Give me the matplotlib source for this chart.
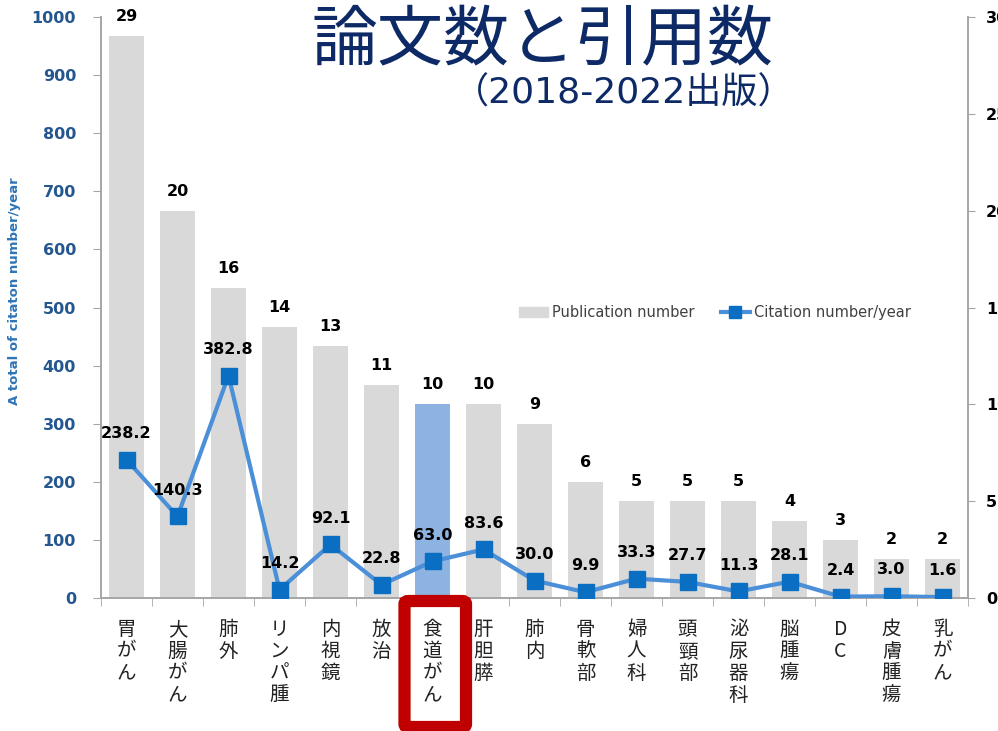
import matplotlib
matplotlib.use("Agg")
import matplotlib.pyplot as plt
from matplotlib.patches import FancyBboxPatch
from matplotlib.lines import Line2D
from matplotlib.patches import Patch

plt.rcParams['font.family'] = ['DejaVu Sans', 'Noto Sans CJK JP']

# data
categories = ['胃がん', '大腸がん', '肺外', 'リンパ腫', '内視鏡', '放治', '食道がん', '肝胆膵',
              '肺内', '骨軟部', '婦人科', '頭頸部', '泌尿器科', '脳腫瘍', 'DC', '皮膚腫瘍', '乳がん']
publications = [29, 20, 16, 14, 13, 11, 10, 10, 9, 6, 5, 5, 5, 4, 3, 2, 2]
citations = [238.2, 140.3, 382.8, 14.2, 92.1, 22.8, 63.0, 83.6, 30.0, 9.9,
             33.3, 27.7, 11.3, 28.1, 2.4, 3.0, 1.6]
highlight = '食道がん'

W, H = 998, 731
fig = plt.figure(figsize=(W / 100, H / 100), dpi=100)
L, R, B, T = 101, 968, 598, 17
ax = fig.add_axes([L / W, 1 - B / H, (R - L) / W, (B - T) / H])
ax2 = ax.twinx()
ax.set_zorder(ax2.get_zorder() + 1)
ax.patch.set_visible(False)

x = list(range(len(categories)))
spine_c = '#a6a6a6'

# bars on right axis
colors = ['#8db3e2' if c == highlight else '#d9d9d9' for c in categories]
ax2.bar(x, publications, width=0.7, color=colors, zorder=1)
for xi, v in zip(x, publications):
    ax2.annotate(str(v), (xi, v), xytext=(0, 14), textcoords='offset points',
                 ha='center', va='center', fontsize=11.5, fontweight='bold', color='black')
ax2.set_ylim(0, 30)
ax2.set_yticks(range(0, 31, 5))
ax2.tick_params(axis='y', direction='out', length=5, color=spine_c, pad=8,
                labelsize=11.5, labelcolor='black')
for lab in ax2.get_yticklabels():
    lab.set_fontweight('bold')

# line on left axis
ax.plot(x, citations, color='#4a8fd8', lw=3, marker='s', markersize=11,
        markerfacecolor='#0a6fc2', markeredgecolor='#0a6fc2', zorder=3)
for xi, v in zip(x, citations):
    ax.annotate(f'{v:.1f}', (xi, v), xytext=(0, 19), textcoords='offset points',
                ha='center', va='center', fontsize=11.5, fontweight='bold', color='black', zorder=4)
ax.set_ylim(0, 1000)
ax.set_yticks(range(0, 1001, 100))
ax.tick_params(axis='y', direction='out', length=6, color=spine_c, pad=12,
               labelsize=11.5, labelcolor='#24568f')
for lab in ax.get_yticklabels():
    lab.set_fontweight('bold')
ax.set_ylabel('A total of citaton number/year', fontsize=9.5, fontweight='bold',
              color='#2e75b6')
ax.yaxis.set_label_coords(-80 / (R - L), 0.528)

ax.set_xlim(-0.5, len(categories) - 0.5)
ax.set_xticks(x)
ax.set_xticklabels(['\n'.join(c) for c in categories], family=['Noto Sans CJK JP'],
                   fontsize=14, color='#222222', va='top', linespacing=1.06)
ax.tick_params(axis='x', length=0, pad=15)
ax.set_xticks([i - 0.5 for i in range(len(categories) + 1)], minor=True)
ax.tick_params(axis='x', which='minor', length=6, color=spine_c, direction='out')

for a in (ax, ax2):
    a.spines['top'].set_visible(False)
    for s in ('left', 'right', 'bottom'):
        a.spines[s].set_color(spine_c)
        a.spines[s].set_linewidth(1.2)
ax2.tick_params(axis='x', length=0)

# legend
handles = [Patch(color='#d9d9d9'),
           Line2D([0], [0], color='#4a8fd8', lw=3, marker='s', markersize=8,
                  markerfacecolor='#0a6fc2', markeredgecolor='#0a6fc2')]
fig.legend(handles, ['Publication number', 'Citation number/year'], ncol=2, frameon=False,
           loc='center left', bbox_to_anchor=(506 / W, 1 - 313 / H), fontsize=10.5,
           handlelength=2.0, handletextpad=0.25, columnspacing=1.8,
           labelcolor='#404040')

# titles
navy = '#0d2a66'
fig.text(543 / W, 1 - 42 / H, '論文数と引用数', family=['Noto Sans CJK JP'], fontsize=47.5,
         color=navy, ha='center', va='center')
fig.text(624 / W, 1 - 93 / H, '（2018-2022出版）', family=['DejaVu Sans', 'Noto Sans CJK JP'],
         fontsize=26, color=navy, ha='center', va='center')

# red box round the highlighted label
box = FancyBboxPatch((404.5 / W, 1 - 727 / H), 61.5 / W, 126 / H,
                     boxstyle='round,pad=0,rounding_size=0.004', transform=fig.transFigure,
                     fill=False, edgecolor='#c00000', linewidth=8.8, zorder=10)
fig.add_artist(box)

fig.savefig('out.png', dpi=100)
